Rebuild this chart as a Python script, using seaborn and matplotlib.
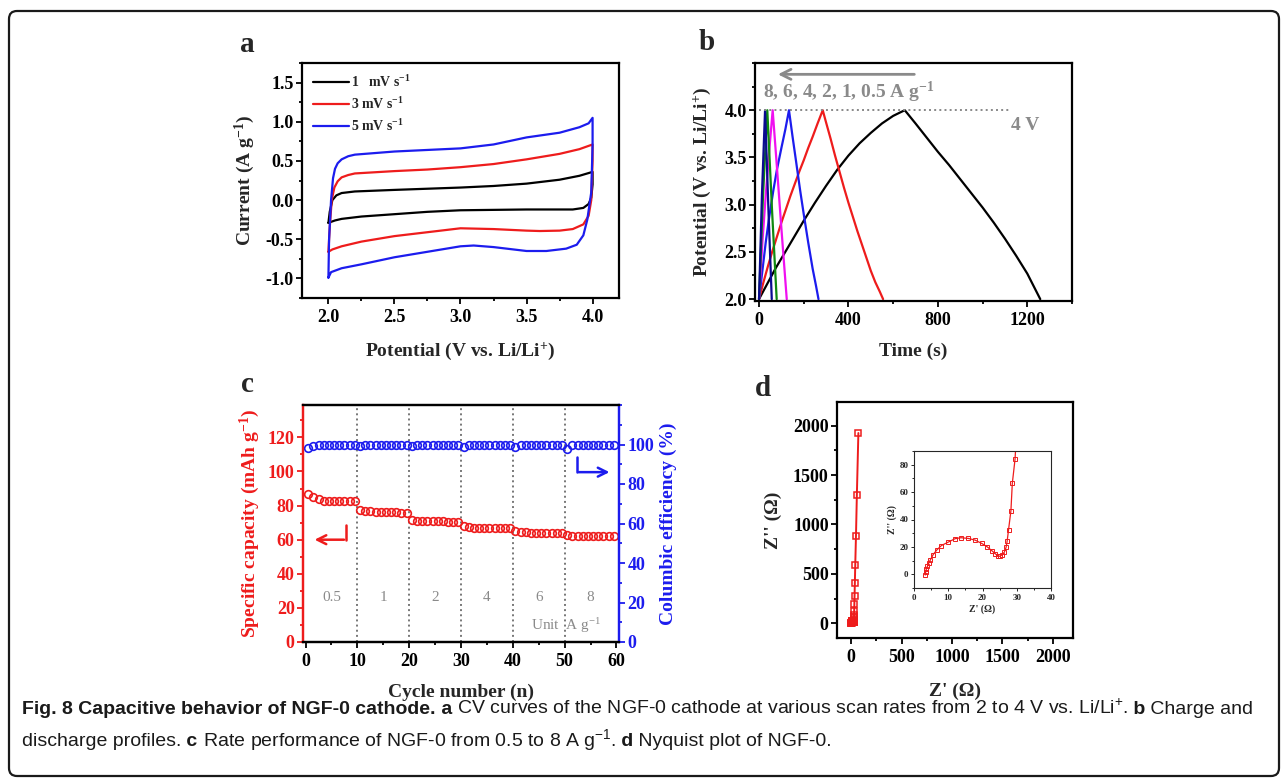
import numpy as np
import pandas as pd
import seaborn as sns
import matplotlib.pyplot as plt
from matplotlib.patches import FancyBboxPatch
from matplotlib.ticker import MultipleLocator

# ---- a: CV loops, potential (V) and current (A/g), forward then reverse sweep
cv_labels = ['1   mV s$^{-1}$', '3 mV s$^{-1}$', '5 mV s$^{-1}$']
cv_colors = ['black', '#ee1c1c', '#1c1cee']
cv1_v = [2.0, 2.01, 2.03, 2.06, 2.1, 2.2, 2.5, 2.75, 3.0, 3.25, 3.5, 3.75, 3.9, 4.0,
         4.0, 3.99, 3.97, 3.93, 3.85, 3.75, 3.5, 3.25, 3.0, 2.75, 2.5, 2.25, 2.1, 2.05, 2.0]
cv1_i = [-0.29, -0.15, 0.0, 0.06, 0.09, 0.11, 0.13, 0.145, 0.16, 0.18, 0.21, 0.26, 0.31, 0.36,
         0.2, 0.03, -0.05, -0.1, -0.12, -0.12, -0.12, -0.125, -0.13, -0.15, -0.18, -0.21, -0.24, -0.26, -0.29]
cv3_v = [2.0, 2.01, 2.025, 2.045, 2.07, 2.1, 2.15, 2.2, 2.5, 2.75, 3.0, 3.25, 3.5, 3.75, 3.9, 4.0,
         4.0, 3.99, 3.97, 3.93, 3.85, 3.75, 3.6, 3.5, 3.25, 3.0, 2.75, 2.5, 2.25, 2.1, 2.03, 2.0]
cv3_i = [-0.66, -0.35, 0.0, 0.16, 0.24, 0.29, 0.32, 0.34, 0.37, 0.39, 0.42, 0.46, 0.52, 0.59, 0.65, 0.71,
         0.5, 0.0, -0.2, -0.31, -0.37, -0.39, -0.395, -0.39, -0.37, -0.36, -0.41, -0.46, -0.53, -0.59, -0.63, -0.66]
cv5_v = [2.0, 2.005, 2.02, 2.035, 2.05, 2.07, 2.1, 2.15, 2.2, 2.5, 2.75, 3.0, 3.25, 3.5, 3.75, 3.9, 3.97, 4.0,
         4.0, 3.99, 3.96, 3.93, 3.88, 3.8, 3.65, 3.5, 3.25, 3.1, 3.0, 2.75, 2.5, 2.25, 2.1, 2.02, 2.0]
cv5_i = [-0.99, -0.5, 0.0, 0.28, 0.4, 0.47, 0.52, 0.56, 0.58, 0.62, 0.64, 0.66, 0.71, 0.8, 0.86, 0.93, 0.98, 1.05,
         0.7, 0.1, -0.25, -0.45, -0.57, -0.62, -0.65, -0.65, -0.6, -0.58, -0.59, -0.66, -0.73, -0.82, -0.87, -0.92, -0.99]

# ---- b: charge / discharge, time (s) and potential (V)
gcd_colors = ['black', '#ee1c1c', '#1c1cee', '#f010f0', '#108a10', '#0a0a90']
gcd05_t = [0, 25, 50, 75, 100, 150, 200, 250, 300, 350, 400, 450, 500, 550, 600, 630, 652,
           700, 750, 800, 850, 900, 950, 1000, 1050, 1100, 1150, 1200, 1258]
gcd05_v = [2.0, 2.11, 2.22, 2.33, 2.43, 2.63, 2.83, 3.02, 3.2, 3.37, 3.52, 3.65, 3.76, 3.86, 3.94, 3.975, 4.0,
           3.86, 3.71, 3.56, 3.42, 3.27, 3.12, 2.97, 2.81, 2.64, 2.46, 2.27, 2.0]
gcd1_t = [0, 20, 40, 60, 80, 100, 120, 140, 160, 180, 200, 220, 240, 262, 285,
          300, 320, 340, 360, 380, 400, 420, 440, 460, 480, 500, 520, 540, 555]
gcd1_v = [2.0, 2.18, 2.35, 2.51, 2.66, 2.81, 2.95, 3.09, 3.22, 3.35, 3.47, 3.6, 3.72, 3.86, 4.0,
          3.87, 3.7, 3.52, 3.35, 3.18, 3.02, 2.87, 2.72, 2.58, 2.44, 2.3, 2.18, 2.08, 2.0]
gcd2_t = [0, 15, 30, 45, 64, 80, 100, 118, 134, 150, 165, 184, 200, 220, 240, 255, 266]
gcd2_v = [2.0, 2.3, 2.6, 2.86, 3.15, 3.37, 3.6, 3.8, 4.0, 3.72, 3.47, 3.15, 2.9, 2.6, 2.32, 2.14, 2.0]
gcd4_t = [0, 15, 30, 45, 61, 80, 100, 124]
gcd4_v = [2.0, 2.6, 3.1, 3.55, 4.0, 3.4, 2.75, 2.0]
gcd6_t = [0, 18, 37, 58, 79]
gcd6_v = [2.0, 3.1, 4.0, 2.95, 2.0]
gcd8_t = [0, 13, 27, 42, 57]
gcd8_v = [2.0, 3.1, 4.0, 2.95, 2.0]

# ---- c: rate performance
cycles = np.arange(0.5, 60, 1.0)
capacity = [86.6, 85.0, 83.6, 82.9, 82.6, 82.6, 82.6, 82.7, 82.7, 82.9,
            77.4, 76.9, 76.6, 76.4, 76.3, 76.2, 76.1, 76.0, 75.9, 75.9,
            71.4, 71.1, 70.9, 70.8, 70.8, 70.7, 70.7, 70.6, 70.6, 70.6,
            67.9, 67.3, 67.0, 66.9, 66.8, 66.8, 66.7, 66.6, 66.6, 66.7,
            65.1, 64.6, 64.4, 64.2, 64.1, 64.0, 63.9, 63.9, 63.8, 64.1,
            62.5, 62.0, 61.9, 61.9, 61.9, 62.0, 62.0, 61.9, 62.0, 62.0]
efficiency = [98.2, 99.3, 99.8, 100, 100, 100, 100, 100, 100, 100,
              99.3, 100, 100, 100, 100, 100, 100, 100, 100, 100,
              99.2, 100, 100, 100, 100, 100, 100, 100, 100, 100,
              98.8, 99.8, 100, 100, 100, 100, 100, 100, 100, 100,
              98.9, 99.8, 100, 100, 100, 100, 100, 100, 100, 100,
              97.8, 99.6, 100, 100, 100, 100, 100, 100, 100, 100]
rate_bounds = [10, 20, 30, 40, 50]
rate_names = ['0.5', '1', '2', '4', '6', '8']

# ---- d: Nyquist
z_re = [3.3, 3.4, 3.6, 3.9, 4.3, 4.8, 5.6, 6.6, 8.0, 10.0, 12.0, 13.7, 15.8, 17.8, 19.8, 21.4,
        22.7, 23.7, 24.4, 25.1, 25.8, 26.4, 26.9, 27.2, 27.6, 28.3, 28.7,
        29.5, 30.5, 32, 34, 37, 41, 48, 57, 72]
z_im = [-0.5, 2, 3.7, 5.7, 8.2, 10.6, 14.4, 17.6, 21, 23.5, 26, 26.7, 26.2, 25, 22.5, 20,
        17.3, 15.1, 13.6, 13.1, 14.4, 16.3, 19.8, 24.3, 32.4, 46.5, 66.3,
        84, 128, 193, 277, 405, 591, 878, 1301, 1926]

sns.set_theme(style='ticks')
plt.rcParams['font.family'] = ['Liberation Serif', 'DejaVu Serif']
plt.rcParams['font.weight'] = 'bold'
plt.rcParams['axes.labelweight'] = 'bold'
plt.rcParams['mathtext.default'] = 'regular'

W, H = 1284, 780
fig = plt.figure(figsize=(12.84, 7.8), dpi=100)


def px_axes(l, t, r, b):
    return fig.add_axes([l / W, 1 - b / H, (r - l) / W, (b - t) / H])


def style(ax, size=13):
    for s in ax.spines.values():
        s.set_linewidth(1.6)
        s.set_color('black')
    ax.tick_params(which='both', direction='out', width=1.3, labelsize=size,
                   top=False, right=False, colors='black', pad=2)
    ax.tick_params(axis='x', which='both', pad=4)
    ax.tick_params(which='major', length=4)
    ax.tick_params(which='minor', length=2.5)
    ax.grid(False)


# ---------------- a
ax = px_axes(302, 63, 619, 298)
for v, i, c, lab in zip([cv1_v, cv3_v, cv5_v], [cv1_i, cv3_i, cv5_i], cv_colors, cv_labels):
    sns.lineplot(x=v, y=i, sort=False, estimator=None, color=c, lw=1.6, label=lab, ax=ax)
ax.set_xlim(1.8, 4.2)
ax.set_ylim(-1.25, 1.75)
ax.xaxis.set_major_locator(MultipleLocator(0.5))
ax.xaxis.set_minor_locator(MultipleLocator(0.25))
ax.yaxis.set_major_locator(MultipleLocator(0.5))
ax.yaxis.set_minor_locator(MultipleLocator(0.25))
ax.xaxis.set_major_formatter(plt.FormatStrFormatter('%.1f'))
ax.yaxis.set_major_formatter(plt.FormatStrFormatter('%.1f'))
style(ax)
ax.set_xlabel('Potential (V vs. Li/Li$^{+}$)', fontsize=14, labelpad=10)
ax.set_ylabel('Current (A g$^{-1}$)', fontsize=14, labelpad=6)
ax.legend(loc='upper left', frameon=False, handlelength=2.6,
          handletextpad=0.1, labelspacing=0.45, borderaxespad=0.4,
          prop={'weight': 'bold', 'size': 10})

# ---------------- b
ax = px_axes(755, 63, 1072, 301)
for t, v, c in zip([gcd05_t, gcd1_t, gcd2_t, gcd4_t, gcd6_t, gcd8_t],
                   [gcd05_v, gcd1_v, gcd2_v, gcd4_v, gcd6_v, gcd8_v], gcd_colors):
    sns.lineplot(x=t, y=v, sort=False, estimator=None, color=c, lw=1.6, ax=ax, legend=False)
ax.hlines(4.0, 0, 1125, colors='#888888', linestyles=':', lw=1.4)
ax.text(1125, 3.84, '4 V', color='#8a8a8a', fontsize=14, va='center', ha='left')
ax.text(20, 4.19, '8, 6, 4, 2, 1, 0.5 A g$^{-1}$', color='#8a8a8a', fontsize=14,
        va='center', ha='left')
ax.annotate('', xy=(72, 4.38), xytext=(707, 4.38),
            arrowprops=dict(arrowstyle='->', color='#8a8a8a', lw=2, mutation_scale=18))
ax.set_xlim(-18, 1400)
ax.set_ylim(1.98, 4.5)
ax.xaxis.set_major_locator(MultipleLocator(400))
ax.xaxis.set_minor_locator(MultipleLocator(200))
ax.set_yticks([2.0, 2.5, 3.0, 3.5, 4.0])
ax.yaxis.set_minor_locator(MultipleLocator(0.25))
ax.yaxis.set_major_formatter(plt.FormatStrFormatter('%.1f'))
style(ax)
ax.set_xlabel('Time (s)', fontsize=14, labelpad=10)
ax.set_ylabel('Potential (V vs. Li/Li$^{+}$)', fontsize=14, labelpad=8)

# ---------------- c
ax = px_axes(303, 405, 619, 642)
ax2 = ax.twinx()
for xb in rate_bounds:
    ax.axvline(xb, color='#777777', ls=':', lw=1.4)
sns.lineplot(x=cycles, y=capacity, ax=ax, marker='o', linestyle='none', mfc='none',
             mec='#ee1c1c', mew=1.2, ms=5.5, legend=False)
sns.lineplot(x=cycles, y=efficiency, ax=ax2, marker='o', linestyle='none', mfc='none',
             mec='#1c1cee', mew=1.2, ms=5.5, legend=False)
edges = [0] + rate_bounds + [60]
for k, name in enumerate(rate_names):
    ax.text((edges[k] + edges[k + 1]) / 2, 26, name, color='#8a8a8a', fontsize=11,
            fontweight='normal', ha='center', va='center')
ax.text(43.6, 9.5, 'Unit  A g$^{-1}$', color='#8a8a8a', fontsize=11, fontweight='normal',
        ha='left', va='center')
ax.plot([7.85, 7.85], [68.4, 60], color='#ee1c1c', lw=1.8)
ax.annotate('', xy=(1.2, 60), xytext=(7.95, 60),
            arrowprops=dict(arrowstyle='->', color='#ee1c1c', lw=1.8, mutation_scale=16))
ax2.plot([52.3, 52.3], [93.6, 86], color='#1c1cee', lw=1.8)
ax2.annotate('', xy=(59.2, 86), xytext=(52.2, 86),
             arrowprops=dict(arrowstyle='->', color='#1c1cee', lw=1.8, mutation_scale=16))
ax.set_xlim(-0.5, 60.5)
ax.set_ylim(0, 139)
ax2.set_ylim(0, 120)
ax.xaxis.set_major_locator(MultipleLocator(10))
ax.xaxis.set_minor_locator(MultipleLocator(5))
ax.yaxis.set_major_locator(MultipleLocator(20))
ax.yaxis.set_minor_locator(MultipleLocator(10))
ax2.set_yticks([0, 20, 40, 60, 80, 100])
ax2.yaxis.set_minor_locator(MultipleLocator(10))
style(ax)
style(ax2)
ax2.tick_params(which='both', right=True, left=False, labelright=True, labelleft=False,
                colors='#1c1cee')
ax.tick_params(axis='y', which='both', colors='#ee1c1c')
ax.spines['left'].set_color('#ee1c1c')
ax2.spines['left'].set_color('#ee1c1c')
ax2.spines['right'].set_color('#1c1cee')
ax.spines['right'].set_color('#1c1cee')
ax.set_xlabel('Cycle number (n)', fontsize=14, labelpad=10)
ax.set_ylabel('Specific capacity (mAh g$^{-1}$)', fontsize=14, color='#ee1c1c')
ax2.set_ylabel('Columbic efficiency (%)', fontsize=14, color='#1c1cee')

# ---------------- d
ax = px_axes(837, 402, 1073, 638)
sns.lineplot(x=z_re, y=z_im, sort=False, estimator=None, ax=ax, color='#ee1c1c', lw=1.4,
             marker='s', mfc='none', mec='#ee1c1c', mew=1.1, ms=5, legend=False)
ax.set_xlim(-140, 2200)
ax.set_ylim(-150, 2240)
ax.xaxis.set_major_locator(MultipleLocator(500))
ax.xaxis.set_minor_locator(MultipleLocator(250))
ax.yaxis.set_major_locator(MultipleLocator(500))
ax.yaxis.set_minor_locator(MultipleLocator(250))
style(ax)
ax.set_xlabel("Z' (\u03a9)", fontsize=14, labelpad=12)
ax.set_ylabel("Z'' (\u03a9)", fontsize=14, labelpad=8)

ins = px_axes(914, 451, 1051, 588)
sns.lineplot(x=z_re, y=z_im, sort=False, estimator=None, ax=ins, color='#ee1c1c', lw=0.9,
             marker='s', mfc='none', mec='#ee1c1c', mew=0.7, ms=3, legend=False)
ins.set_xlim(0, 40)
ins.set_ylim(-10, 90)
ins.xaxis.set_major_locator(MultipleLocator(10))
ins.xaxis.set_minor_locator(MultipleLocator(5))
ins.yaxis.set_major_locator(MultipleLocator(20))
ins.yaxis.set_minor_locator(MultipleLocator(10))
for s in ins.spines.values():
    s.set_linewidth(0.8)
ins.tick_params(which='both', direction='out', width=0.7, labelsize=6.5, pad=1.5)
ins.tick_params(which='major', length=2.5)
ins.tick_params(which='minor', length=1.5)
ins.set_xlabel("Z' (\u03a9)", fontsize=7, labelpad=2)
ins.set_ylabel("Z'' (\u03a9)", fontsize=7, labelpad=2)

# panel letters
for lx, ly, s in [(247, 44, 'a'), (707, 42, 'b'), (247, 385, 'c'), (763, 388, 'd')]:
    fig.text(lx / W, 1 - ly / H, s, fontsize=21, fontweight='bold', ha='center', va='center')

# frame
fig.patches.append(FancyBboxPatch((0.09, 0.04), 12.7, 7.65, boxstyle='round,pad=0,rounding_size=0.08',
                                  transform=fig.dpi_scale_trans, fill=False, lw=1.6,
                                  edgecolor='#1a1a1a'))

# caption
cap_font = ['Liberation Sans', 'DejaVu Sans']
renderer = fig.canvas.get_renderer()


def caption_line(pieces, x, y):
    for s, bold in pieces:
        t = fig.text(x / W, 1 - y / H, s, fontsize=14, family=cap_font,
                     fontweight='bold' if bold else 'normal', color='#1a1a1a', va='baseline')
        x = t.get_window_extent(renderer=renderer).x1


caption_line([('Fig. 8 Capacitive behavior of NGF-0 cathode.', True), (' a', True),
              (' CV curves of the NGF-0 cathode at various scan rates from 2 to 4 V vs. Li/Li$^{+}$.', False),
              (' b', True), (' Charge and', False)], 22, 714)
caption_line([('discharge profiles.', False), (' c', True),
              (' Rate performance of NGF-0 from 0.5 to 8 A g$^{-1}$.', False), (' d', True),
              (' Nyquist plot of NGF-0.', False)], 22, 746)

fig.savefig('out.png', dpi=100)
